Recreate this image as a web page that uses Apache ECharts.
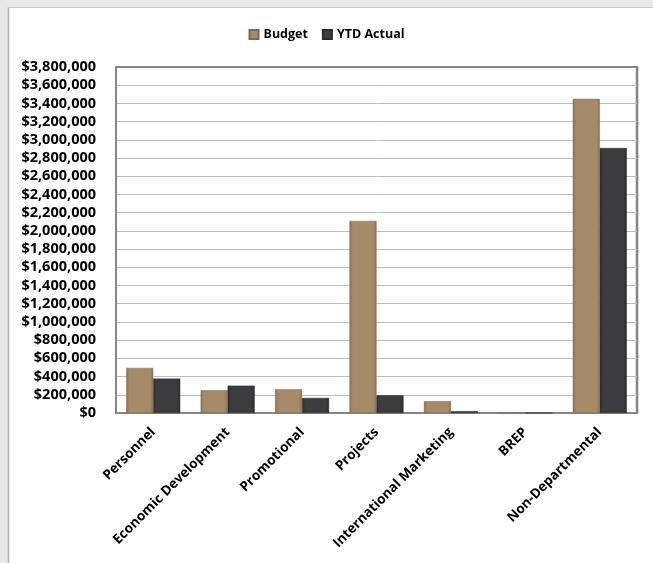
<!DOCTYPE html>
<html>
<head>
<meta charset="utf-8">
<script src="https://cdn.jsdelivr.net/npm/echarts@6/dist/echarts.min.js"></script>
<style>
  html, body { margin: 0; padding: 0; background: #fff; }
  #chart { width: 653px; height: 563px; }
</style>
</head>
<body>
<div id="chart"></div>
<script>
// Budget vs YTD actual by department
var categories = ['Personnel', 'Economic Development', 'Promotional', 'Projects',
  'International Marketing', 'BREP', 'Non-Departmental']
var budget = [495000, 250000, 260000, 2110000, 130000, 5000, 3450000]
var ytdActual = [378000, 300000, 165000, 195000, 20000, 0, 2910000]
var yMin = 0
var yMax = 3800000
var yStep = 200000

var font = 'Open Sans'

function barColor(dark, mid) {
  return new echarts.graphic.LinearGradient(0, 0, 1, 0, [
    { offset: 0, color: dark },
    { offset: 0.12, color: mid },
    { offset: 0.88, color: mid },
    { offset: 1, color: dark }
  ])
}

var chart = echarts.init(document.getElementById('chart'))
chart.setOption({
  backgroundColor: '#fff',
  animation: false,
  textStyle: { fontFamily: font },
  graphic: [
    { type: 'rect', shape: { x: 0, y: 0, width: 653, height: 7 }, style: { fill: '#e8e8e8' }, silent: true },
    { type: 'rect', shape: { x: 0, y: 0, width: 8, height: 563 }, style: { fill: '#e8e8e8' }, silent: true },
    { type: 'line', shape: { x1: 8.5, y1: 7, x2: 8.5, y2: 563 }, style: { stroke: '#b4b4b4', lineWidth: 1.5 }, silent: true },
    { type: 'line', shape: { x1: 8, y1: 7.5, x2: 653, y2: 7.5 }, style: { stroke: '#c8c8c8', lineWidth: 1 }, silent: true },
    // right border of plot area
    { type: 'line', shape: { x1: 637, y1: 66, x2: 637, y2: 414 }, style: { stroke: '#868686', lineWidth: 2.5 }, silent: true }
  ],
  legend: {
    top: 23,
    left: 'center',
    icon: 'rect',
    itemWidth: 9,
    itemHeight: 9,
    itemGap: 14,
    textStyle: { fontWeight: 'bold', fontSize: 12.5, color: '#000', fontFamily: font },
    data: ['Budget', 'YTD Actual']
  },
  grid: { left: 116, right: 16, top: 67, bottom: 150 },
  xAxis: {
    type: 'category',
    data: categories,
    axisLine: { lineStyle: { color: '#868686', width: 2 } },
    axisTick: { show: false },
    axisLabel: {
      rotate: 45,
      interval: 0,
      fontSize: 13.5,
      fontWeight: 'bold',
      color: '#000',
      margin: 17
    }
  },
  yAxis: {
    type: 'value',
    min: yMin,
    max: yMax,
    interval: yStep,
    axisLine: { show: true, lineStyle: { color: '#868686', width: 2 } },
    axisTick: { show: false },
    splitLine: { lineStyle: { color: '#bdbdbd', width: 1 } },
    axisLabel: {
      fontSize: 14.5,
      fontWeight: 'bold',
      color: '#000',
      margin: 20,
      formatter: function (v) { return '$' + v.toLocaleString('en-US') }
    }
  },
  series: [
    {
      name: 'Budget',
      type: 'bar',
      data: budget,
      barWidth: 27,
      barGap: '0%',
      itemStyle: {
        color: barColor('#8a7152', '#a68b68'),
        borderColor: '#7f6a4f',
        borderWidth: 0.5
      }
    },
    {
      name: 'YTD Actual',
      type: 'bar',
      data: ytdActual,
      barWidth: 27,
      itemStyle: {
        color: barColor('#2a2a2d', '#3d3d41'),
        borderColor: '#2a2a2a',
        borderWidth: 0.5
      }
    },
    {
      // top frame of the plot area
      type: 'line',
      data: [],
      markLine: {
        silent: true,
        symbol: 'none',
        label: { show: false },
        lineStyle: { color: '#868686', width: 2, type: 'solid' },
        data: [{ yAxis: yMax }]
      }
    }
  ]
})
</script>
</body>
</html>
